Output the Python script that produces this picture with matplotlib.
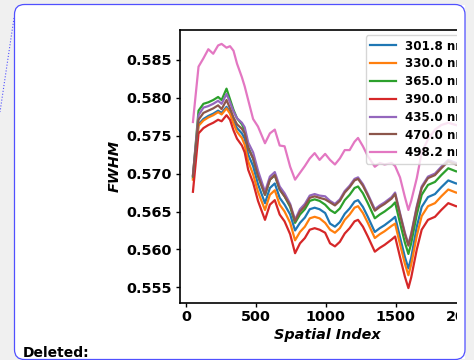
import matplotlib
matplotlib.use("Agg")
import matplotlib.pyplot as plt
from matplotlib.patches import FancyBboxPatch, Rectangle
from matplotlib.lines import Line2D

# spatial index positions
idx = [50, 90, 125, 160, 195, 230, 255, 290, 315, 340, 365, 400, 420, 445, 480,
       515, 565, 600, 635, 670, 705, 745, 780, 815, 850, 885, 920, 955, 995, 1030,
       1065, 1100, 1135, 1170, 1205, 1230, 1265, 1300, 1350, 1385, 1420, 1470, 1495,
       1530, 1565, 1590, 1610, 1650, 1685, 1730, 1780, 1825, 1875, 1930, 1970]

fwhm_301 = [.5694, .5765, .5772, .5776, .5779, .5783, .5780, .5788, .5781, .5769, .5760,
            .5753, .5746, .5725, .5710, .5686, .5661, .5681, .5687, .5668, .5659, .5646,
            .5625, .5635, .5642, .5653, .5655, .5653, .5648, .5634, .5630, .5636, .5647,
            .5654, .5663, .5665, .5656, .5643, .5623, .5628, .5632, .5639, .5643, .5616,
            .5590, .5575, .5589, .5630, .5656, .5669, .5673, .5682, .5691, .5687, .5686]
fwhm_330 = [.5692, .5763, .5770, .5774, .5777, .5781, .5778, .5786, .5779, .5766, .5755,
            .5747, .5738, .5716, .5699, .5676, .5652, .5672, .5678, .5659, .5650, .5635,
            .5612, .5623, .5630, .5641, .5643, .5641, .5635, .5626, .5622, .5628, .5639,
            .5646, .5655, .5657, .5648, .5635, .5615, .5620, .5624, .5631, .5634, .5607,
            .5581, .5566, .5580, .5618, .5644, .5657, .5661, .5670, .5679, .5675, .5674]
fwhm_365 = [.5696, .5783, .5792, .5794, .5797, .5801, .5797, .5812, .5798, .5784, .5773,
            .5765, .5757, .5735, .5720, .5697, .5672, .5692, .5698, .5679, .5670, .5656,
            .5635, .5646, .5653, .5664, .5666, .5664, .5659, .5652, .5648, .5654, .5665,
            .5672, .5681, .5683, .5674, .5661, .5641, .5646, .5650, .5657, .5662, .5635,
            .5609, .5594, .5608, .5646, .5672, .5685, .5689, .5698, .5707, .5703, .5702]
fwhm_390 = [.5676, .5753, .5760, .5764, .5767, .5771, .5769, .5777, .5771, .5757, .5746,
            .5737, .5728, .5705, .5688, .5664, .5639, .5659, .5665, .5646, .5637, .5620,
            .5595, .5608, .5615, .5626, .5628, .5626, .5622, .5608, .5604, .5610, .5621,
            .5628, .5637, .5639, .5630, .5617, .5597, .5602, .5606, .5613, .5617, .5590,
            .5564, .5549, .5563, .5600, .5626, .5639, .5643, .5652, .5661, .5657, .5656]
fwhm_435 = [.5698, .5777, .5787, .5789, .5792, .5796, .5792, .5805, .5794, .5782, .5773,
            .5767, .5761, .5741, .5728, .5704, .5676, .5696, .5702, .5683, .5674, .5660,
            .5639, .5653, .5660, .5671, .5673, .5671, .5670, .5664, .5660, .5666, .5677,
            .5684, .5693, .5695, .5686, .5673, .5653, .5658, .5662, .5669, .5675, .5648,
            .5622, .5607, .5621, .5657, .5683, .5696, .5700, .5709, .5718, .5714, .5713]
fwhm_470 = [.5697, .5771, .5780, .5783, .5786, .5790, .5785, .5797, .5786, .5774, .5765,
            .5759, .5753, .5733, .5720, .5697, .5672, .5692, .5698, .5679, .5670, .5658,
            .5637, .5650, .5657, .5668, .5670, .5668, .5666, .5662, .5658, .5664, .5675,
            .5682, .5691, .5693, .5684, .5671, .5651, .5656, .5660, .5667, .5673, .5646,
            .5620, .5605, .5619, .5655, .5681, .5694, .5698, .5707, .5716, .5712, .5711]
fwhm_498 = [.5768, .5841, .5852, .5864, .5858, .5869, .5871, .5866, .5868, .5862, .5845,
            .5827, .5815, .5797, .5772, .5762, .5740, .5753, .5758, .5737, .5736, .5709,
            .5692, .5701, .5710, .5720, .5727, .5718, .5726, .5718, .5712, .5720, .5731,
            .5731, .5742, .5747, .5736, .5723, .5709, .5714, .5712, .5714, .5710, .5695,
            .5669, .5652, .5664, .5694, .5728, .5745, .5758, .5764, .5767, .5764, .5762]

series = [fwhm_301, fwhm_330, fwhm_365, fwhm_390, fwhm_435, fwhm_470, fwhm_498]
labels = ["301.8 nm", "330.0 nm", "365.0 nm", "390.0 nm", "435.0 nm", "470.0 nm", "498.2 nm"]

W, H = 474, 360
fig = plt.figure(figsize=(W / 100, H / 100), dpi=100, facecolor="#f0f0f0")

# white card with blue rounded border (pixel coords)
card = FancyBboxPatch((14.5, 0.5), 450.5, 355, boxstyle="round,pad=0,rounding_size=10",
                      fc="white", ec="none", transform=None, zorder=-1)
fig.add_artist(card)

ax = fig.add_axes([179.5 / W, 57.5 / H, (475 - 179.5) / W, 273 / H])
for y, lab in zip(series, labels):
    ax.plot(idx, y, lw=1.6, label=lab)

ax.set_xlim(-46, 2066)
ax.set_ylim(0.5530, 0.5890)
ax.set_xticks([0, 500, 1000, 1500, 2000])
ax.set_yticks([0.555, 0.560, 0.565, 0.570, 0.575, 0.580, 0.585])
ax.tick_params(labelsize=10.4, length=2.8, pad=2.4, width=1.0)
for t in ax.get_xticklabels() + ax.get_yticklabels():
    t.set_fontweight("bold")
for s in ax.spines.values():
    s.set_linewidth(1.2)
ax.set_xlabel("Spatial Index", fontsize=10.4, fontweight="bold", fontstyle="italic", labelpad=3)
ax.set_ylabel("FWHM", fontsize=10.4, fontweight="bold", fontstyle="italic", labelpad=4)
ax.legend(loc="upper right", bbox_to_anchor=(1 + 3 / 295.5, 1),
          prop={"size": 8.6, "weight": "bold"}, labelspacing=0.4,
          handlelength=2.2, handletextpad=0.75, borderpad=0.35)

# the chart image is cropped on its right side
fig.add_artist(Rectangle((456.5, 1), 9, 354, fc="white", ec="none", transform=None, zorder=5))
fig.add_artist(Rectangle((465, 0), 10, 360, fc="#f0f0f0", ec="none", transform=None, zorder=5))
border = FancyBboxPatch((14.5, 0.5), 450.5, 355, boxstyle="round,pad=0,rounding_size=10",
                        fc="none", ec="#5050ff", lw=0.9, transform=None, zorder=6)
fig.add_artist(border)
fig.add_artist(Line2D([14, 0], [342, 248], color="#5050ff", lw=0.8, ls=":",
                      transform=None, zorder=6))

fig.text(23 / W, 3 / H, "Deleted:", fontsize=10, fontweight="bold", va="baseline", zorder=7)

fig.savefig("out.png", dpi=100, facecolor=fig.get_facecolor())
